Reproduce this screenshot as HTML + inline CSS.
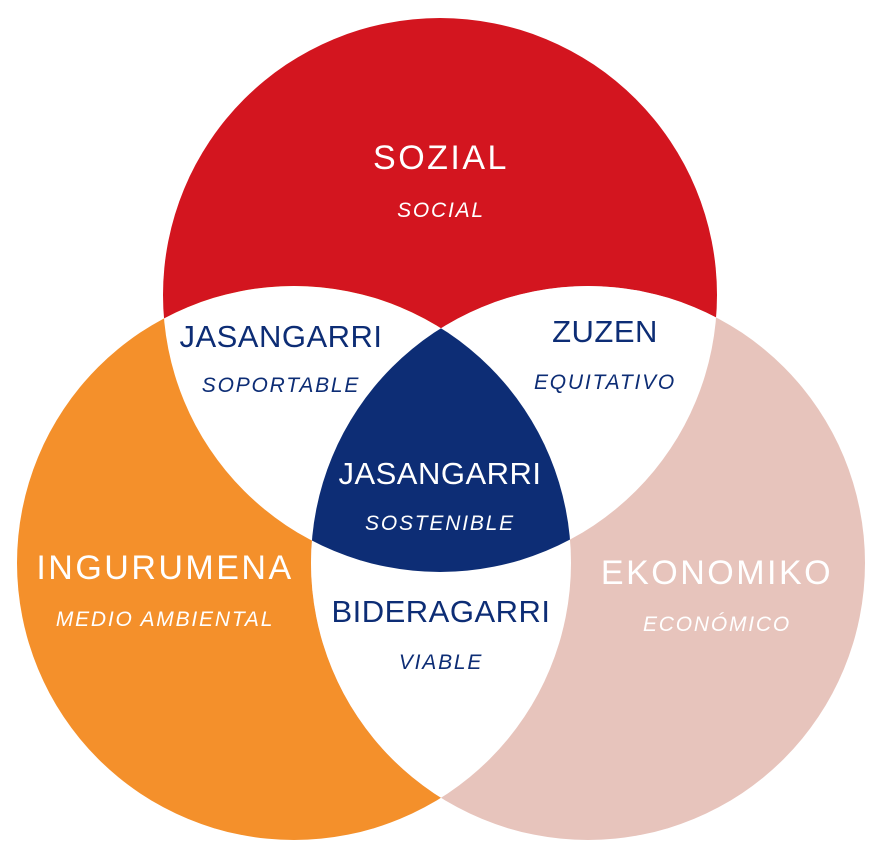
<!DOCTYPE html>
<html><head><meta charset="utf-8"><style>
html,body{margin:0;padding:0;background:#fff;}
svg{display:block;}
text{font-family:"Liberation Sans",sans-serif;text-anchor:middle;}
.t{font-size:31px;letter-spacing:0.5px;}
.b{font-size:34px;letter-spacing:2.5px;}
.s{font-size:21px;font-style:italic;letter-spacing:1.8px;}
</style></head><body>
<svg width="880" height="853" viewBox="0 0 880 853" xmlns="http://www.w3.org/2000/svg">
<defs>
<clipPath id="cr"><circle cx="440" cy="295" r="277"/></clipPath>
<clipPath id="co"><circle cx="294" cy="563" r="277"/></clipPath>
<clipPath id="cp"><circle cx="588" cy="563" r="277"/></clipPath>
</defs>
<circle cx="440" cy="295" r="277" fill="#d3151f"/>
<circle cx="294" cy="563" r="277" fill="#f4902b"/>
<circle cx="588" cy="563" r="277" fill="#e7c4bc"/>
<g clip-path="url(#cr)"><circle cx="294" cy="563" r="277" fill="#fff"/><circle cx="588" cy="563" r="277" fill="#fff"/></g>
<g clip-path="url(#co)"><circle cx="588" cy="563" r="277" fill="#fff"/></g>
<g clip-path="url(#cr)"><g clip-path="url(#co)"><circle cx="588" cy="563" r="277" fill="#0d2d75"/></g></g>
<text class="b" x="441" y="169" fill="#fff">SOZIAL</text>
<text class="s" x="441" y="217" fill="#fff">SOCIAL</text>
<text class="t" x="281" y="347" fill="#0d2d75">JASANGARRI</text>
<text class="s" x="281" y="392" fill="#0d2d75">SOPORTABLE</text>
<text class="t" x="605" y="342" fill="#0d2d75">ZUZEN</text>
<text class="s" x="605" y="389" fill="#0d2d75">EQUITATIVO</text>
<text class="t" x="440" y="484" fill="#fff">JASANGARRI</text>
<text class="s" x="440" y="530" fill="#fff">SOSTENIBLE</text>
<text class="b" x="165" y="579" fill="#fff">INGURUMENA</text>
<text class="s" x="165" y="626" fill="#fff">MEDIO AMBIENTAL</text>
<text class="b" x="717" y="584" fill="#fff">EKONOMIKO</text>
<text class="s" x="717" y="631" fill="#fff">ECONÓMICO</text>
<text class="t" x="441" y="622" fill="#0d2d75">BIDERAGARRI</text>
<text class="s" x="441" y="669" fill="#0d2d75">VIABLE</text>
</svg>
</body></html>
